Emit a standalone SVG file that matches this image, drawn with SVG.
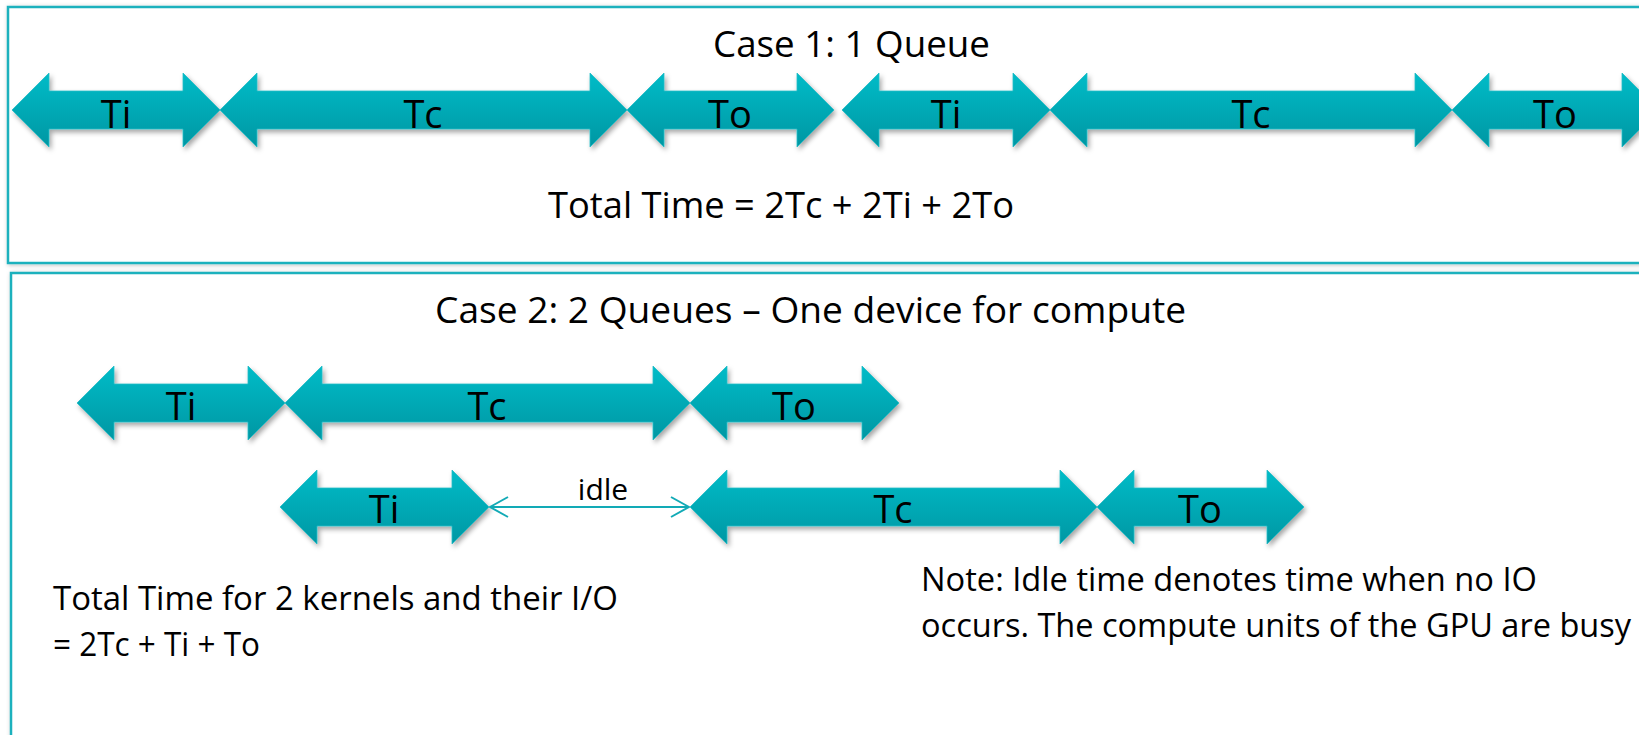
<svg xmlns="http://www.w3.org/2000/svg" width="1639" height="735" viewBox="0 0 1639 735">
<defs>
  <linearGradient id="tealGrad" x1="0" y1="0" x2="0" y2="1">
    <stop offset="0" stop-color="#00bcc8"/>
    <stop offset="1" stop-color="#0097a3"/>
  </linearGradient>
  <filter id="arrowShadow" x="-10%" y="-30%" width="120%" height="160%">
    <feDropShadow dx="2" dy="3" stdDeviation="2.5" flood-color="#000" flood-opacity="0.35"/>
  </filter>
  <filter id="boxShadow" x="-5%" y="-5%" width="110%" height="110%">
    <feDropShadow dx="1" dy="1" stdDeviation="2" flood-color="#000" flood-opacity="0.25"/>
  </filter>
  <marker id="openHead" viewBox="0 0 20 22" refX="19" refY="11" markerWidth="20" markerHeight="22" markerUnits="userSpaceOnUse" orient="auto-start-reverse">
    <path d="M1,1 L19,11 L1,21" fill="none" stroke="#12aab6" stroke-width="2"/>
  </marker>
</defs>
<style>
  .frame { fill: #ffffff; stroke: #1eb1bd; stroke-width: 2.5; filter: url(#boxShadow); }
  .arrow { fill: url(#tealGrad); stroke: #22bcc6; stroke-width: 0.8; filter: url(#arrowShadow); }
  .lbl { font-family: "Open Sans", "Noto Sans", sans-serif; font-size: 38px; fill: #000; text-anchor: middle; }
  .title { font-family: "Open Sans", "Noto Sans", sans-serif; font-size: 36px; fill: #000; }
  .body { font-family: "Open Sans", "Noto Sans", sans-serif; font-size: 33px; fill: #000; }
  .small { font-family: "Open Sans", "Noto Sans", sans-serif; font-size: 30px; fill: #000; text-anchor: middle; }
  .conn { stroke: #12aab6; stroke-width: 2; fill: none; }
</style>
<rect width="1639" height="735" fill="#ffffff"/>

<g id="case1-frame">
  <rect class="frame" x="8" y="7" width="1650" height="256"/>
</g>
<g id="case2-frame">
  <rect class="frame" x="11" y="273" width="1650" height="500"/>
</g>

<g id="case1-title">
  <text class="title" x="713" y="57" textLength="277" lengthAdjust="spacingAndGlyphs">Case 1: 1 Queue</text>
</g>

<!-- Case 1 row -->
<g id="c1-ti-1">
  <path class="arrow" d="M12,110 L49,73 L49,91 L183,91 L183,73 L220,110 L183,147 L183,129 L49,129 L49,147 Z"/>
  <text class="lbl" x="116" y="128">Ti</text>
</g>
<g id="c1-tc-1">
  <path class="arrow" d="M220,110 L257,73 L257,91 L590,91 L590,73 L627,110 L590,147 L590,129 L257,129 L257,147 Z"/>
  <text class="lbl" x="423" y="128">Tc</text>
</g>
<g id="c1-to-1">
  <path class="arrow" d="M627,110 L664,73 L664,91 L797,91 L797,73 L834,110 L797,147 L797,129 L664,129 L664,147 Z"/>
  <text class="lbl" x="730" y="128">To</text>
</g>
<g id="c1-ti-2">
  <path class="arrow" d="M842,110 L879,73 L879,91 L1013,91 L1013,73 L1050,110 L1013,147 L1013,129 L879,129 L879,147 Z"/>
  <text class="lbl" x="946" y="128">Ti</text>
</g>
<g id="c1-tc-2">
  <path class="arrow" d="M1050,110 L1087,73 L1087,91 L1415,91 L1415,73 L1452,110 L1415,147 L1415,129 L1087,129 L1087,147 Z"/>
  <text class="lbl" x="1251" y="128">Tc</text>
</g>
<g id="c1-to-2">
  <path class="arrow" d="M1452,110 L1489,73 L1489,91 L1622,91 L1622,73 L1659,110 L1622,147 L1622,129 L1489,129 L1489,147 Z"/>
  <text class="lbl" x="1555" y="128">To</text>
</g>

<g id="case1-total">
  <text class="title" x="548" y="218" textLength="466" lengthAdjust="spacingAndGlyphs">Total Time = 2Tc + 2Ti + 2To</text>
</g>

<g id="case2-title">
  <text class="title" x="435" y="323" textLength="751" lengthAdjust="spacingAndGlyphs">Case 2: 2 Queues – One device for compute</text>
</g>

<!-- Case 2 row A -->
<g id="c2a-ti">
  <path class="arrow" d="M77,403 L114,366 L114,384 L248,384 L248,366 L285,403 L248,440 L248,422 L114,422 L114,440 Z"/>
  <text class="lbl" x="181" y="420">Ti</text>
</g>
<g id="c2a-tc">
  <path class="arrow" d="M285,403 L322,366 L322,384 L653,384 L653,366 L690,403 L653,440 L653,422 L322,422 L322,440 Z"/>
  <text class="lbl" x="487" y="420">Tc</text>
</g>
<g id="c2a-to">
  <path class="arrow" d="M690,403 L727,366 L727,384 L862,384 L862,366 L899,403 L862,440 L862,422 L727,422 L727,440 Z"/>
  <text class="lbl" x="794" y="420">To</text>
</g>

<!-- Case 2 row B -->
<g id="c2b-ti">
  <path class="arrow" d="M280,507 L317,470 L317,488 L452,488 L452,470 L489,507 L452,544 L452,526 L317,526 L317,544 Z"/>
  <text class="lbl" x="384" y="523">Ti</text>
</g>
<g id="c2b-tc">
  <path class="arrow" d="M690,507 L727,470 L727,488 L1060,488 L1060,470 L1097,507 L1060,544 L1060,526 L727,526 L727,544 Z"/>
  <text class="lbl" x="893" y="523">Tc</text>
</g>
<g id="c2b-to">
  <path class="arrow" d="M1097,507 L1134,470 L1134,488 L1267,488 L1267,470 L1304,507 L1267,544 L1267,526 L1134,526 L1134,544 Z"/>
  <text class="lbl" x="1200" y="523">To</text>
</g>

<g id="connectors">
  <line class="conn" x1="490" y1="507" x2="689" y2="507" marker-start="url(#openHead)" marker-end="url(#openHead)"/>
  <text class="small" x="603" y="500">idle</text>
</g>

<g id="case2-total">
  <text class="body" x="53" y="610" textLength="565" lengthAdjust="spacingAndGlyphs">Total Time for 2 kernels and their I/O</text>
  <text class="body" x="53" y="656" textLength="207" lengthAdjust="spacingAndGlyphs">= 2Tc + Ti + To</text>
</g>

<g id="case2-note">
  <text class="body" x="921" y="591" textLength="616" lengthAdjust="spacingAndGlyphs">Note: Idle time denotes time when no IO</text>
  <text class="body" x="921" y="637" textLength="710" lengthAdjust="spacingAndGlyphs">occurs. The compute units of the GPU are busy</text>
</g>
</svg>
